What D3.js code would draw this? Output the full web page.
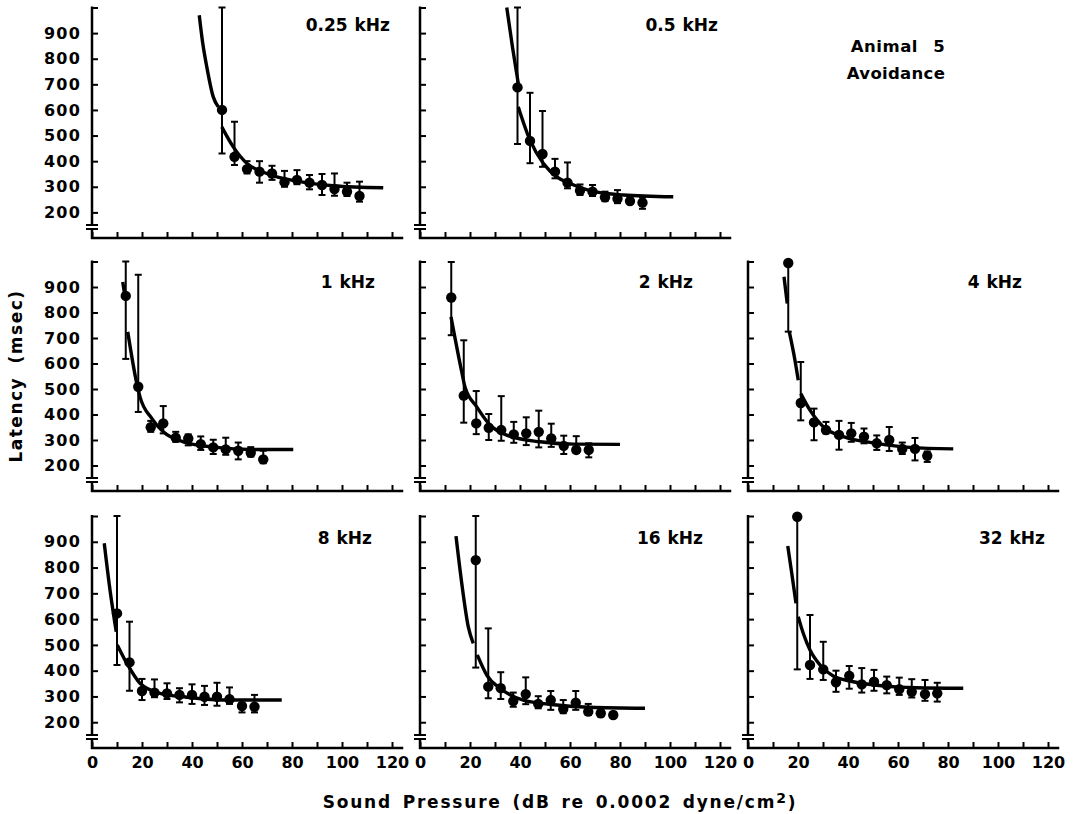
<!DOCTYPE html>
<html><head><meta charset="utf-8">
<script src="https://cdn.jsdelivr.net/npm/d3@7"></script>
<style>body{margin:0;background:#fff}</style>
</head><body>
<svg id="c" width="1078" height="814"></svg>
<script>
// ---------- DATA ----------
const panelLabels = ["0.25 kHz","0.5 kHz","1 kHz","2 kHz","4 kHz","8 kHz","16 kHz","32 kHz"];
const yTicks = [200,300,400,500,600,700,800,900,1000];
const xTicks = [0,10,20,30,40,50,60,70,80,90,100,110,120];
const titleLines = ["Animal 5","Avoidance"];
const yTitle = "Latency (msec)";
const xTitle = "Sound Pressure (dB re 0.0002 dyne/cm";

// 0.25 kHz
const db025 = [52,57,62,67,72,77,82,87,92,97,102,107];
const lat025 = [600,417,369,359,352,318,327,316,307,291,281,264];
const hi025 = [1000,554,400,400,382,362,365,346,350,352,316,320];
const lo025 = [430,385,352,316,327,300,310,290,268,265,264,242];
const fitX025 = [42.9,44.3,45.9,48.5,50.5,null,51.9,56.5,61.9,69.9,83.2,96.5,116.5];
const fitY025 = [970,860,769,651,612,null,534,456,392,352,320,304,296];
// 0.5 kHz
const db05 = [39,44,49,54,59,64,69,74,79,84,89];
const lat05 = [688,479,428,359,316,285,281,259,253,244,238];
const hi05 = [1000,667,596,409,395,309,307,281,287,261,258];
const lo05 = [467,392,378,333,294,268,264,244,236,236,214];
const fitX05 = [34.7,37,39.3,null,39.3,44,49.3,54.7,60,68,81.3,101.3];
const fitY05 = [1000,845,704,null,612,482,392,339,313,285,268,261];
// 1 kHz
const db1 = [13.5,18.5,23.5,28.5,33.5,38.5,43.5,48.5,53.5,58.5,63.5,68.5];
const lat1 = [865,509,350,365,309,306,284,271,263,258,250,224];
const hi1 = [1000,948,375,433,332,322,314,301,309,290,272,258];
const lo1 = [618,410,332,326,293,279,261,245,242,224,235,209];
const fitX1 = [12.3,13.3,null,14.3,17.9,19.2,23.9,28.5,36.5,49.9,63.2,80.5];
const fitY1 = [920,855,null,724,522,469,385,332,293,271,263,263];
// 2 kHz
const db2 = [12.5,17.5,22.5,27.5,32.5,37.5,42.5,47.5,52.5,57.5,62.5,67.5];
const lat2 = [859,474,365,348,339,322,326,332,306,277,261,261];
const hi2 = [998,691,492,402,472,371,389,415,364,317,315,287];
const lo2 = [711,368,323,300,297,289,280,271,273,245,250,232];
const fitX2 = [12.4,16.7,18,22.7,28,34.7,48,61.3,80];
const fitY2 = [783,567,508,430,359,319,293,284,283];
// 4 kHz
const db4 = [16.1,21.1,26.4,31.2,36.4,41.3,46.4,51.5,56.5,61.7,66.8,71.7];
const lat4 = [994,445,369,339,320,326,313,287,300,265,265,238];
const hi4 = [1000,606,423,371,375,367,345,318,351,290,308,255];
const lo4 = [725,377,299,326,262,293,287,261,257,245,220,214];
const fitX4 = [14.4,15.7,null,16.5,18.8,20.1,null,21.1,24.8,30.1,38.1,51.5,64.8,82.1];
const fitY4 = [940,835,null,725,612,534,null,482,417,352,313,287,271,265];
// 8 kHz
const db8 = [10,15,20,25,30,35,40,45,50,55,60,65];
const lat8 = [622,432,321,315,312,306,306,299,299,289,263,260];
const hi8 = [1000,590,368,366,351,332,347,341,353,335,286,306];
const lo8 = [422,322,286,297,290,277,271,267,264,271,238,238];
const fitX8 = [4.9,7.2,9.7,null,10.1,13.9,19.2,27.2,37.9,56.5,75.9];
const fitY8 = [894,713,551,null,500,429,351,312,297,286,286];
// 16 kHz
const db16 = [22.3,27.3,32.3,37.3,42.3,47.3,52.3,57.3,62.3,67.3,72.3,77.3];
const lat16 = [829,338,332,282,309,271,286,251,276,241,235,228];
const hi16 = [1000,564,394,315,374,301,321,286,321,271,248,240];
const lo16 = [412,293,290,260,270,254,248,235,248,228,222,218];
const fitX16 = [14.4,16.7,19.3,21.3,null,22.9,26.7,32,41.3,54.7,68,90];
const fitY16 = [922,739,571,506,null,461,383,332,286,267,258,254];
// 32 kHz
const db32 = [19.7,24.8,30.1,35.2,40.5,45.5,50.4,55.5,60.5,65.5,70.8,75.7];
const lat32 = [997,422,405,355,380,347,357,344,328,318,309,312];
const hi32 = [1000,616,512,400,418,410,403,377,373,367,364,353];
const lo32 = [405,368,364,318,330,315,322,312,306,296,283,280];
const fitX32 = [15.9,17.5,19.2,null,20.1,22.1,24.8,28.8,34.1,42.1,54.1,67.5,86.1];
const fitY32 = [884,778,661,null,609,545,480,422,379,357,341,334,332];

const series = [
  {db:db025, lat:lat025, hi:hi025, lo:lo025, fx:fitX025, fy:fitY025},
  {db:db05, lat:lat05, hi:hi05, lo:lo05, fx:fitX05, fy:fitY05},
  {db:db1, lat:lat1, hi:hi1, lo:lo1, fx:fitX1, fy:fitY1},
  {db:db2, lat:lat2, hi:hi2, lo:lo2, fx:fitX2, fy:fitY2},
  {db:db4, lat:lat4, hi:hi4, lo:lo4, fx:fitX4, fy:fitY4},
  {db:db8, lat:lat8, hi:hi8, lo:lo8, fx:fitX8, fy:fitY8},
  {db:db16, lat:lat16, hi:hi16, lo:lo16, fx:fitX16, fy:fitY16},
  {db:db32, lat:lat32, hi:hi32, lo:lo32, fx:fitX32, fy:fitY32}
];

// ---------- LAYOUT ----------
const colX = [92, 420, 748];
const rowAxisY = [238, 491, 748];
const rowTopY = [7.5, 261.5, 516];
const panelCell = [[0,0],[1,0],[0,1],[1,1],[2,1],[0,2],[1,2],[2,2]];
const labelRight = [298, 298, 283, 273, 274, 280, 283, 297];
const labelY = [25, 25, 282, 282, 282, 538, 538, 538];
const FONT = "'DejaVu Sans', sans-serif";

const svg = d3.select("#c");
svg.append("rect").attr("width",1078).attr("height",814).attr("fill","#fff");

series.forEach((s, i) => {
  const [c, r] = panelCell[i];
  const x0 = colX[c], ay = rowAxisY[r], ty = rowTopY[r];
  const x = d3.scaleLinear().domain([0,120]).range([x0, x0 + 300]);
  const y = d3.scaleLinear().domain([100,1000]).range([ay, ty]);
  const g = svg.append("g");

  // x axis
  const xa = d3.axisBottom(x).tickValues(xTicks).tickSizeInner(-6).tickSizeOuter(0).tickPadding(9)
    .tickFormat(d => (r === 2 && d % 20 === 0) ? d : "");
  const gx = g.append("g").attr("transform", `translate(0,${ay})`).call(xa);
  gx.select(".domain").remove();
  gx.selectAll("line").attr("stroke-width", 2);
  gx.attr("font-family", FONT).attr("font-size", 16).attr("font-weight", "bold");
  gx.selectAll("text").attr("fill", "#000");
  g.append("line").attr("x1", x(0) - 1).attr("x2", x(124.5)).attr("y1", ay).attr("y2", ay)
    .attr("stroke", "#000").attr("stroke-width", 2.5);

  // y axis
  const ya = d3.axisLeft(y).tickValues(yTicks).tickSizeInner(-6).tickSizeOuter(0).tickPadding(11)
    .tickFormat(d => (c === 0 && d < 1000) ? d : "");
  const gy = g.append("g").attr("transform", `translate(${x0},0)`).call(ya);
  gy.select(".domain").remove();
  gy.selectAll("line").attr("stroke-width", 2);
  gy.attr("font-family", FONT).attr("font-size", 16).attr("font-weight", "bold");
  gy.selectAll("text").attr("fill", "#000").attr("letter-spacing", "1.2px");
  g.append("line").attr("x1", x0).attr("x2", x0).attr("y1", y(1000) - 1).attr("y2", ay - 13)
    .attr("stroke", "#000").attr("stroke-width", 2.5);
  g.append("line").attr("x1", x0).attr("x2", x0).attr("y1", ay - 9).attr("y2", ay + 1)
    .attr("stroke", "#000").attr("stroke-width", 2.5);
  [ay - 13, ay - 9].forEach(by => {
    g.append("line").attr("x1", x0 - 6).attr("x2", x0 + 6).attr("y1", by).attr("y2", by)
      .attr("stroke", "#000").attr("stroke-width", 2);
  });

  // fitted curve
  const fit = s.fx.map((v, k) => ({x: v, y: s.fy[k]}));
  const line = d3.line().defined(d => d.x != null && d.y != null)
    .x(d => x(d.x)).y(d => y(d.y)).curve(d3.curveMonotoneX);
  g.append("path").attr("d", line(fit)).attr("fill", "none")
    .attr("stroke", "#000").attr("stroke-width", 3.4);

  // error bars
  const pts = s.db.map((v, k) => ({db: v, lat: s.lat[k], hi: s.hi[k], lo: s.lo[k]}));
  const eb = g.append("g").attr("stroke", "#000").attr("stroke-width", 2);
  pts.forEach(p => {
    eb.append("line").attr("x1", x(p.db)).attr("x2", x(p.db)).attr("y1", y(p.hi)).attr("y2", y(p.lo));
    [p.hi, p.lo].forEach(v => {
      eb.append("line").attr("x1", x(p.db) - 3.5).attr("x2", x(p.db) + 3.5).attr("y1", y(v)).attr("y2", y(v));
    });
  });
  g.selectAll("circle.pt").data(pts).join("circle").attr("class", "pt")
    .attr("cx", d => x(d.db)).attr("cy", d => y(d.lat)).attr("r", 5.2).attr("fill", "#000");

  // panel label
  g.append("text").attr("x", x0 + labelRight[i]).attr("y", labelY[i]).attr("dy", "0.36em")
    .attr("text-anchor", "end").attr("font-family", FONT).attr("font-size", 17)
    .attr("font-weight", "bold").attr("word-spacing", "1px").text(panelLabels[i]);
});

// Title block
svg.append("text").attr("x", 898).attr("y", 46).attr("dy", "0.36em").attr("text-anchor", "middle")
  .attr("font-family", FONT).attr("font-size", 16.5).attr("font-weight", "bold")
  .attr("letter-spacing", "0.5px").attr("word-spacing", "9px").text(titleLines[0]);
svg.append("text").attr("x", 896).attr("y", 73).attr("dy", "0.36em").attr("text-anchor", "middle")
  .attr("font-family", FONT).attr("font-size", 16.5).attr("font-weight", "bold")
  .attr("letter-spacing", "0.3px").text(titleLines[1]);

// Axis titles
svg.append("text").attr("transform", "translate(16,376) rotate(-90)").attr("dy", "0.36em")
  .attr("text-anchor", "middle").attr("font-family", FONT).attr("font-size", 17)
  .attr("font-weight", "bold").attr("letter-spacing", "1.5px").attr("word-spacing", "6px").text(yTitle);

const xt = svg.append("text").attr("x", 560).attr("y", 802).attr("dy", "0.36em")
  .attr("text-anchor", "middle").attr("font-family", FONT).attr("font-size", 17)
  .attr("font-weight", "bold").attr("letter-spacing", "1.8px").attr("word-spacing", "3px");
xt.append("tspan").text(xTitle);
xt.append("tspan").attr("dy", "-0.35em").attr("font-size", 14).text("2");
xt.append("tspan").attr("dy", "0.35em").text(")");
</script>
</body></html>
